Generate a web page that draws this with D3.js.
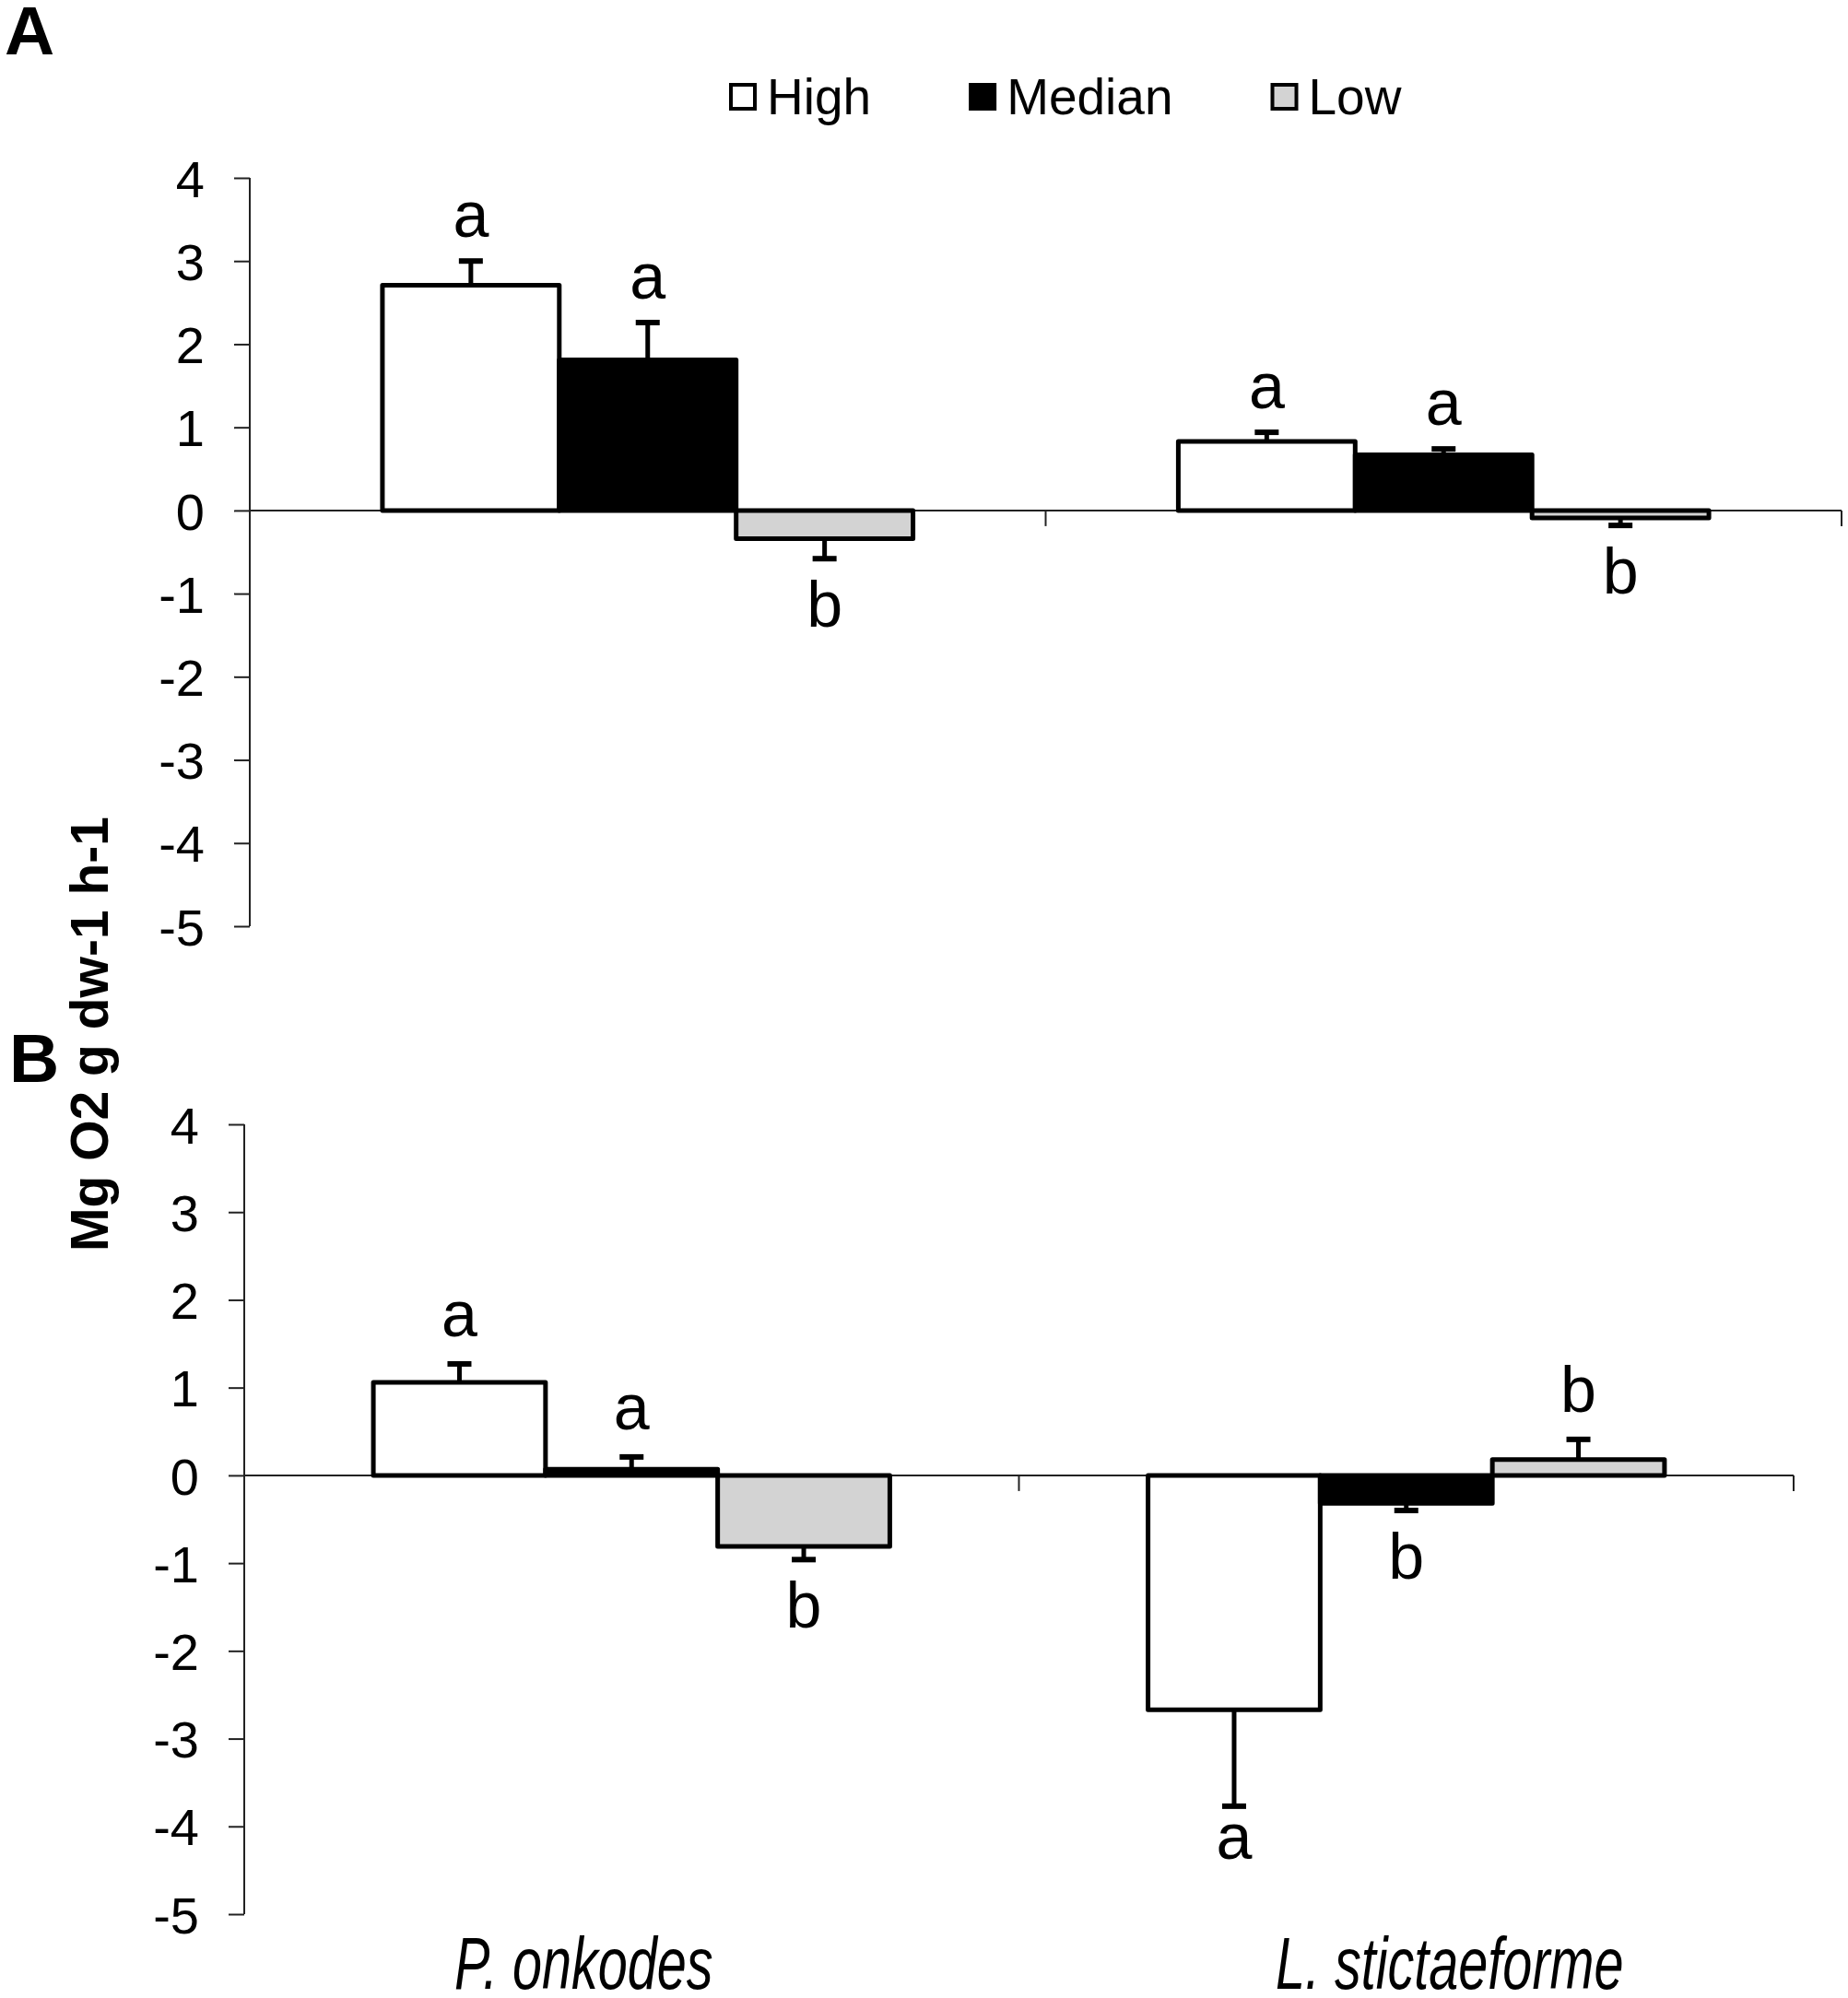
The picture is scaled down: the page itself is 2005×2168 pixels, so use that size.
<!DOCTYPE html>
<html>
<head>
<meta charset="utf-8">
<script src="https://cdn.jsdelivr.net/npm/d3@7"></script>
<style>
  body { margin: 0; background: #fff; }
  svg text { font-family: "Liberation Sans", Arial, sans-serif; fill: #000; }
</style>
</head>
<body>
<svg id="chart" width="2005" height="2168"></svg>
<script>
// categories and series
const categories = ["P. onkodes", "L. stictaeforme"];
const seriesNames = ["High", "Median", "Low"];
const yTicks = [4, 3, 2, 1, 0, -1, -2, -3, -4, -5];

// panel A means and errors (per series, one value per category)
const highA = [2.71, 0.83];
const medianA = [1.81, 0.67];
const lowA = [-0.34, -0.09];
const highErrA = [0.29, 0.11];
const medianErrA = [0.45, 0.07];
const lowErrA = [0.24, 0.09];
const lettersA = [["a", "a", "b"], ["a", "a", "b"]];

// panel B means and errors
const highB = [1.06, -2.67];
const medianB = [0.07, -0.32];
const lowB = [-0.81, 0.18];
const highErrB = [0.21, 1.10];
const medianErrB = [0.14, 0.08];
const lowErrB = [0.15, 0.23];
const lettersB = [["a", "a", "b"], ["a", "b", "b"]];

const fills = { High: "#ffffff", Median: "#000000", Low: "#d3d3d3" };

const svg = d3.select("#chart");

function buildRows(means, errs, letters) {
  const rows = [];
  categories.forEach((c, ci) => {
    seriesNames.forEach((s, si) => {
      rows.push({ cat: c, series: s, value: means[si][ci], err: errs[si][ci], letter: letters[ci][si] });
    });
  });
  return rows;
}

function drawPanel(opt) {
  const g = svg.append("g");
  const x0 = d3.scaleBand().domain(categories).range([opt.left, opt.right]).padding(0);
  const bw = x0.bandwidth();
  const x1 = d3.scaleBand().domain(seriesNames).range([bw / 6, bw * 5 / 6]).padding(0);
  const y = d3.scaleLinear().domain([-5, 4]).range([opt.bottom, opt.top]);
  const rows = buildRows(opt.means, opt.errs, opt.letters);

  // y axis (plain hyphen for negatives, as in the original)
  const yAxis = g.append("g")
    .attr("transform", `translate(${opt.left},0)`)
    .call(d3.axisLeft(y).tickValues(yTicks).tickSize(17).tickPadding(32).tickFormat((d) => String(d)));
  yAxis.select(".domain").attr("stroke", "#222").attr("stroke-width", 2).attr("d", `M0,${y(4)}V${y(-5)}`);
  yAxis.selectAll(".tick line").attr("stroke", "#222").attr("stroke-width", 2);
  yAxis.selectAll(".tick text").attr("font-size", 56).attr("font-family", "Liberation Sans, Arial, sans-serif").attr("dy", "0.36em");

  // zero line with category ticks
  const xAxis = g.append("g")
    .attr("transform", `translate(0,${y(0)})`)
    .call(d3.axisBottom(x0).tickSize(0).tickFormat(""));
  xAxis.select(".domain").attr("stroke", "#222").attr("stroke-width", 2).attr("d", `M${opt.left},0H${opt.right}`);
  xAxis.selectAll(".tick").remove();
  g.selectAll(".catTick")
    .data(categories)
    .enter().append("line")
    .attr("x1", (d) => x0(d) + bw)
    .attr("x2", (d) => x0(d) + bw)
    .attr("y1", y(0))
    .attr("y2", y(0) + 17)
    .attr("stroke", "#222")
    .attr("stroke-width", 2);

  // bars
  g.selectAll(".bar")
    .data(rows)
    .enter().append("rect")
    .attr("class", "bar")
    .attr("x", (d) => x0(d.cat) + x1(d.series))
    .attr("y", (d) => y(Math.max(0, d.value)))
    .attr("width", x1.bandwidth())
    .attr("height", (d) => Math.abs(y(d.value) - y(0)))
    .attr("fill", (d) => fills[d.series])
    .attr("stroke", "#000")
    .attr("stroke-width", 5)
    .attr("stroke-linejoin", "round");

  // error bars, pointing away from zero
  const errEnd = (d) => y(d.value + Math.sign(d.value) * d.err);
  const cx = (d) => x0(d.cat) + x1(d.series) + x1.bandwidth() / 2;
  g.selectAll(".errStem")
    .data(rows)
    .enter().append("line")
    .attr("x1", cx).attr("x2", cx)
    .attr("y1", (d) => y(d.value))
    .attr("y2", errEnd)
    .attr("stroke", "#000")
    .attr("stroke-width", 5);
  g.selectAll(".errCap")
    .data(rows)
    .enter().append("line")
    .attr("x1", (d) => cx(d) - 13).attr("x2", (d) => cx(d) + 13)
    .attr("y1", errEnd).attr("y2", errEnd)
    .attr("stroke", "#000")
    .attr("stroke-width", 6);

  // significance letters
  g.selectAll(".sig")
    .data(rows)
    .enter().append("text")
    .attr("x", cx)
    .attr("y", (d) => d.value >= 0 ? errEnd(d) - opt.gapAbove : errEnd(d) + (d.letter === "a" ? 57 : 74))
    .attr("text-anchor", "middle")
    .attr("font-size", 70)
    .text((d) => d.letter);

  // panel letter
  svg.append("text")
    .attr("x", opt.tagX).attr("y", opt.tagY)
    .attr("font-size", 75).attr("font-weight", "bold")
    .text(opt.tag);

  return { x0, y };
}

drawPanel({ tag: "A", tagX: 5, tagY: 59, left: 271, right: 1998, top: 193, bottom: 1005,
  means: [highA, medianA, lowA], errs: [highErrA, medianErrA, lowErrA], letters: lettersA, gapAbove: 26 });
const pB = drawPanel({ tag: "B", tagX: 10, tagY: 1174, left: 265, right: 1946, top: 1220, bottom: 2077,
  means: [highB, medianB, lowB], errs: [highErrB, medianErrB, lowErrB], letters: lettersB, gapAbove: 30 });

// category labels under panel B
const catDx = [-52, 47];
svg.selectAll(".catLabel")
  .data(categories)
  .enter().append("text")
  .attr("transform", (d, i) => `translate(${pB.x0(d) + pB.x0.bandwidth() / 2 + catDx[i]},2158) scale(0.72,1)`)
  .attr("text-anchor", "middle")
  .attr("font-size", 80)
  .attr("font-style", "italic")
  .text((d) => d);

// y axis title
svg.append("text")
  .attr("transform", "translate(117,1122) rotate(-90)")
  .attr("text-anchor", "middle")
  .attr("font-size", 57)
  .attr("font-weight", "bold")
  .text("Mg O2 g dw-1 h-1");

// legend
const legend = svg.append("g");
let lx = 791;
seriesNames.forEach((s) => {
  legend.append("rect")
    .attr("x", lx + 2).attr("y", 92)
    .attr("width", 26).attr("height", 26)
    .attr("fill", fills[s])
    .attr("stroke", "#000").attr("stroke-width", 4);
  const t = legend.append("text")
    .attr("x", lx + 41).attr("y", 124)
    .attr("font-size", 55)
    .text(s);
  lx += 41 + t.node().getComputedTextLength() + 106;
});
</script>
</body>
</html>
